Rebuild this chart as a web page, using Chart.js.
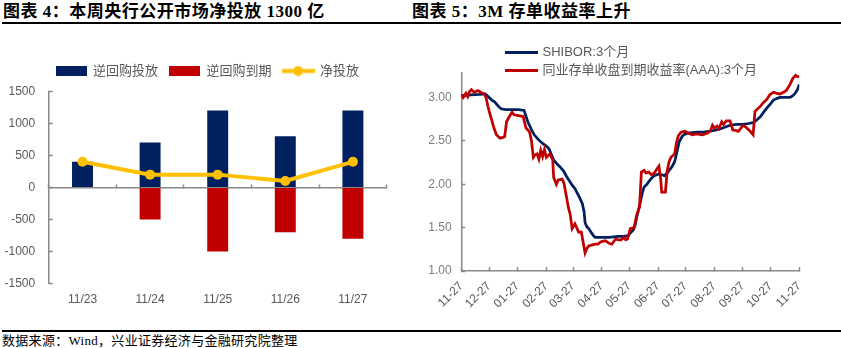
<!DOCTYPE html>
<html lang="zh-CN">
<head>
<meta charset="utf-8">
<title>公开市场操作与存单利率</title>
<script src="https://cdn.jsdelivr.net/npm/chart.js@4.4.1/dist/chart.umd.min.js"></script>
<style>
  html, body { margin: 0; padding: 0; background: #fff; }
  body { position: relative; width: 841px; height: 348px; overflow: hidden; }
  .title { position: absolute; top: 3px; font: bold 17px/17px "Liberation Serif", "Noto Sans CJK SC", serif; letter-spacing: 0.5px; color: #000; white-space: nowrap; }
  .rule { position: absolute; left: 2px; width: 839px; background: #000; }
  .box { position: absolute; }
  .source { position: absolute; left: 2px; top: 334px; font: 13px/13px "Liberation Serif", "Noto Sans CJK SC", serif; letter-spacing: 0.3px; color: #000; white-space: nowrap; }
</style>
</head>
<body>
<div class="title" style="left:3px">图表 4：本周央行公开市场净投放 1300 亿</div>
<div class="title" style="left:412px">图表 5：3M 存单收益率上升</div>
<div class="rule" style="top:22px;height:2px"></div>
<div class="box" style="left:0;top:50px;width:414px;height:270px"><canvas id="omo"></canvas></div>
<div class="box" style="left:414px;top:40px;width:427px;height:290px"><canvas id="ncd"></canvas></div>
<div class="rule" style="top:330px;height:1.5px"></div>
<div class="source">数据来源：Wind，兴业证券经济与金融研究院整理</div>
<script>
// 本周公开市场操作（亿元）
const days = ['11/23', '11/24', '11/25', '11/26', '11/27'];
const repoIssued = [400, 700, 1200, 800, 1200];
const repoMatured = [0, -500, -1000, -700, -800];
const netInjection = [400, 200, 200, 100, 400];

// 3M 利率（%），横轴为距 2019-11-27 的天数
const monthTickDays = [0, 30, 61, 92, 121, 152, 182, 213, 243, 274, 305, 335, 366];
const monthTickLabels = ['11-27', '12-27', '01-27', '02-27', '03-27', '04-27', '05-27',
  '06-27', '07-27', '08-27', '09-27', '10-27', '11-27'];

const shiborDay = [0, 10, 20, 26, 29, 33, 36, 40, 43, 48, 55, 62, 68, 72, 76, 79, 83, 88, 92, 95,
  98, 100, 104, 107, 111, 114, 117, 120, 123, 125, 128, 131, 133, 134, 136, 138, 141, 143, 145, 150,
  160, 170, 176, 181, 183, 186, 188, 190, 192, 194, 196, 198, 201, 203, 206, 209, 214, 217, 220, 223,
  225, 228, 231, 233, 236, 239, 241, 246, 255, 262, 268, 274, 281, 286, 291, 298, 305, 311, 316, 320,
  324, 328, 331, 335, 338, 342, 345, 351, 356, 359, 361, 364, 366];
const shiborRate = [3.02, 3.03, 3.035, 3.04, 3.01, 2.97, 2.95, 2.90, 2.87, 2.86, 2.86, 2.86, 2.85, 2.72, 2.63, 2.57, 2.52, 2.47, 2.44, 2.41,
  2.33, 2.28, 2.23, 2.20, 2.15, 2.09, 2.04, 1.99, 1.95, 1.91, 1.85, 1.78, 1.68, 1.56, 1.51, 1.49, 1.44, 1.41, 1.39, 1.39,
  1.39, 1.40, 1.40, 1.41, 1.44, 1.47, 1.52, 1.62, 1.71, 1.80, 1.90, 1.97, 2.00, 2.03, 2.07, 2.10, 2.12, 2.11, 2.10, 2.13,
  2.16, 2.20, 2.26, 2.35, 2.49, 2.55, 2.57, 2.59, 2.60, 2.60, 2.61, 2.62, 2.64, 2.66, 2.68, 2.69, 2.69, 2.70, 2.71, 2.74,
  2.78, 2.84, 2.88, 2.93, 2.97, 2.99, 3.00, 3.00, 3.00, 3.02, 3.04, 3.09, 3.15];

const ncdDay = [0, 2, 5, 7, 9, 11, 14, 18, 21, 25, 27, 29, 31, 33, 35, 38, 42, 45, 47, 49,
  52, 55, 57, 62, 67, 70, 74, 76, 78, 80, 82, 84, 86, 88, 90, 92, 96, 99, 100, 103,
  105, 109, 111, 114, 116, 118, 120, 123, 125, 127, 130, 132, 134, 136, 138, 141, 145, 148, 150, 152,
  156, 160, 163, 167, 170, 173, 176, 178, 180, 183, 187, 190, 193, 195, 198, 200, 203, 206, 209, 212,
  214, 216, 217, 221, 223, 225, 227, 231, 233, 235, 238, 242, 246, 250, 255, 261, 267, 270, 272, 274,
  277, 279, 282, 284, 287, 291, 294, 297, 300, 303, 305, 308, 310, 313, 316, 318, 321, 324, 327, 331,
  334, 338, 341, 345, 349, 352, 356, 359, 362, 364, 366];
const ncdRate = [3.03, 3.00, 3.05, 3.01, 3.07, 3.09, 3.06, 3.08, 3.06, 3.04, 2.99, 2.89, 2.81, 2.74, 2.66, 2.57, 2.53, 2.54, 2.55, 2.72,
  2.78, 2.83, 2.80, 2.79, 2.78, 2.65, 2.60, 2.50, 2.31, 2.34, 2.35, 2.29, 2.39, 2.32, 2.40, 2.31, 2.35, 2.28, 2.08, 2.00,
  2.05, 2.06, 2.02, 1.85, 1.73, 1.65, 1.49, 1.545, 1.50, 1.45, 1.45, 1.33, 1.21, 1.26, 1.29, 1.30, 1.31, 1.31, 1.33, 1.34,
  1.35, 1.32, 1.31, 1.37, 1.36, 1.36, 1.39, 1.36, 1.37, 1.49, 1.50, 1.65, 1.74, 2.14, 2.16, 2.13, 2.14, 2.11, 2.13, 2.18,
  2.21, 2.05, 1.91, 1.91, 2.16, 2.26, 2.31, 2.35, 2.48, 2.56, 2.60, 2.61, 2.59, 2.57, 2.58, 2.57, 2.59, 2.62, 2.68, 2.65,
  2.67, 2.64, 2.72, 2.69, 2.73, 2.73, 2.625, 2.62, 2.61, 2.65, 2.68, 2.66, 2.64, 2.61, 2.57, 2.84, 2.87, 2.90, 2.94, 2.98,
  3.03, 3.06, 3.05, 3.04, 3.06, 3.08, 3.15, 3.22, 3.255, 3.24, 3.24];

const NAVY = '#002060';
const RED = '#C00000';
const GOLD = '#FFC000';
const axisGray = '#898989';

Chart.defaults.font.family = '"Liberation Sans", "Noto Sans CJK SC", sans-serif';
Chart.defaults.color = '#595959';

// small canvases used as legend keys
function swatch(w, h, draw) {
  const c = document.createElement('canvas');
  c.width = w;
  c.height = h;
  draw(c.getContext('2d'));
  return c;
}
const rectKey = color => swatch(31, 10, ctx => { ctx.fillStyle = color; ctx.fillRect(0, 0, 31, 10); });
const lineKey = color => swatch(33, 3, ctx => { ctx.fillStyle = color; ctx.fillRect(0, 0, 33, 3); });
const omoKeys = [
  rectKey(NAVY),
  rectKey(RED),
  swatch(33, 11, ctx => {
    ctx.fillStyle = GOLD;
    ctx.fillRect(0, 3.5, 33, 4);
    ctx.beginPath();
    ctx.arc(16.5, 5.5, 5, 0, Math.PI * 2);
    ctx.fill();
  })
];
const ncdKeys = [lineKey(NAVY), lineKey(RED)];

function keyedLabels(keys) {
  return chart => {
    const items = Chart.defaults.plugins.legend.labels.generateLabels(chart);
    items.forEach(it => { it.pointStyle = keys[it.datasetIndex]; });
    return items;
  };
}

// nudges the legend box after layout (canvas px)
const moveLegend = {
  id: 'moveLegend',
  afterLayout(chart, args, opts) {
    const lg = chart.legend;
    lg.left += opts.dx; lg.right += opts.dx;
    lg.top += opts.dy; lg.bottom += opts.dy;
  }
};

new Chart(document.getElementById('omo'), {
  data: {
    labels: days,
    datasets: [
      { type: 'bar', label: '逆回购投放', data: repoIssued, backgroundColor: NAVY,
        grouped: false, barPercentage: 0.31, categoryPercentage: 1, order: 1, xAxisID: 'x' },
      { type: 'bar', label: '逆回购到期', data: repoMatured, backgroundColor: RED,
        grouped: false, barPercentage: 0.31, categoryPercentage: 1, order: 1, xAxisID: 'x' },
      { type: 'line', label: '净投放', data: netInjection, borderColor: GOLD, backgroundColor: GOLD,
        borderWidth: 4, pointRadius: 5, pointBorderWidth: 0, pointBackgroundColor: GOLD,
        order: 0, xAxisID: 'x' }
    ]
  },
  options: {
    responsive: true,
    maintainAspectRatio: false,
    animation: false,
    layout: { padding: { top: 7.3, right: 27.3, bottom: 4, left: 0 } },
    plugins: {
      tooltip: { enabled: false },
      moveLegend: { dx: 14, dy: -3.8 },
      legend: {
        position: 'top',
        labels: {
          usePointStyle: true, pointStyleWidth: 31, padding: 11,
          color: '#595959', font: { size: 13 },
          generateLabels: keyedLabels(omoKeys),
          sort: (a, b) => a.datasetIndex - b.datasetIndex
        }
      }
    },
    scales: {
      x: {
        type: 'category', axis: 'x', position: { y: 0 }, offset: true, z: 1,
        border: { color: axisGray, width: 1.5 },
        grid: { offset: true, drawOnChartArea: false, tickLength: -4, tickColor: axisGray, tickWidth: 1.5 },
        ticks: { display: false }
      },
      x2: {
        type: 'category', axis: 'x', position: 'bottom', offset: true,
        border: { display: false },
        grid: { display: false, drawTicks: false },
        ticks: { color: '#595959', font: { size: 12 }, padding: 9 }
      },
      y: {
        min: -1500, max: 1500,
        border: { color: axisGray, width: 1.5 },
        grid: { drawOnChartArea: false, tickLength: -4, tickColor: axisGray, tickWidth: 1.5 },
        ticks: { stepSize: 500, color: '#595959', font: { size: 12 }, padding: 17.5, callback: v => String(v) },
        afterFit(scale) { scale.width = 48.7; }
      }
    }
  },
  plugins: [moveLegend]
});

new Chart(document.getElementById('ncd'), {
  type: 'line',
  data: {
    datasets: [
      { label: 'SHIBOR:3个月', data: shiborDay.map((d, i) => ({ x: d, y: shiborRate[i] })),
        borderColor: NAVY, backgroundColor: NAVY, borderWidth: 2.75, pointRadius: 0, order: 1 },
      { label: '同业存单收盘到期收益率(AAA):3个月', data: ncdDay.map((d, i) => ({ x: d, y: ncdRate[i] })),
        borderColor: RED, backgroundColor: RED, borderWidth: 2.75, pointRadius: 0, order: 0 }
    ]
  },
  options: {
    responsive: true,
    maintainAspectRatio: false,
    animation: false,
    layout: { padding: { top: 32.7, right: 41.7, bottom: 7, left: 0 } },
    plugins: {
      tooltip: { enabled: false },
      moveLegend: { dx: 39.7, dy: 0.5 },
      legend: {
        position: 'chartArea',
        align: 'start',
        labels: {
          usePointStyle: true, pointStyleWidth: 30, padding: 5,
          color: '#595959', font: { size: 13 },
          generateLabels: keyedLabels(ncdKeys),
          sort: (a, b) => a.datasetIndex - b.datasetIndex
        }
      }
    },
    scales: {
      x: {
        type: 'linear', min: 0, max: 366,
        border: { color: axisGray, width: 1.5 },
        grid: { drawOnChartArea: false, tickLength: -4, tickColor: axisGray, tickWidth: 1.5 },
        afterBuildTicks(scale) { scale.ticks = monthTickDays.map(v => ({ value: v })); },
        ticks: {
          autoSkip: false, minRotation: 45, maxRotation: 45, padding: 12,
          color: '#595959', font: { size: 12 },
          callback: v => monthTickLabels[monthTickDays.indexOf(v)]
        }
      },
      y: {
        min: 1, max: 3.285,
        border: { color: axisGray, width: 1.5 },
        grid: { drawOnChartArea: false, tickLength: -4, tickColor: axisGray, tickWidth: 1.5 },
        ticks: {
          stepSize: 0.5, includeBounds: false, padding: 13.6,
          color: '#7f7f7f', font: { size: 12 },
          callback: v => v.toFixed(2)
        },
        afterFit(scale) { scale.width = 47.3; }
      }
    }
  },
  plugins: [moveLegend]
});
</script>
</body>
</html>
